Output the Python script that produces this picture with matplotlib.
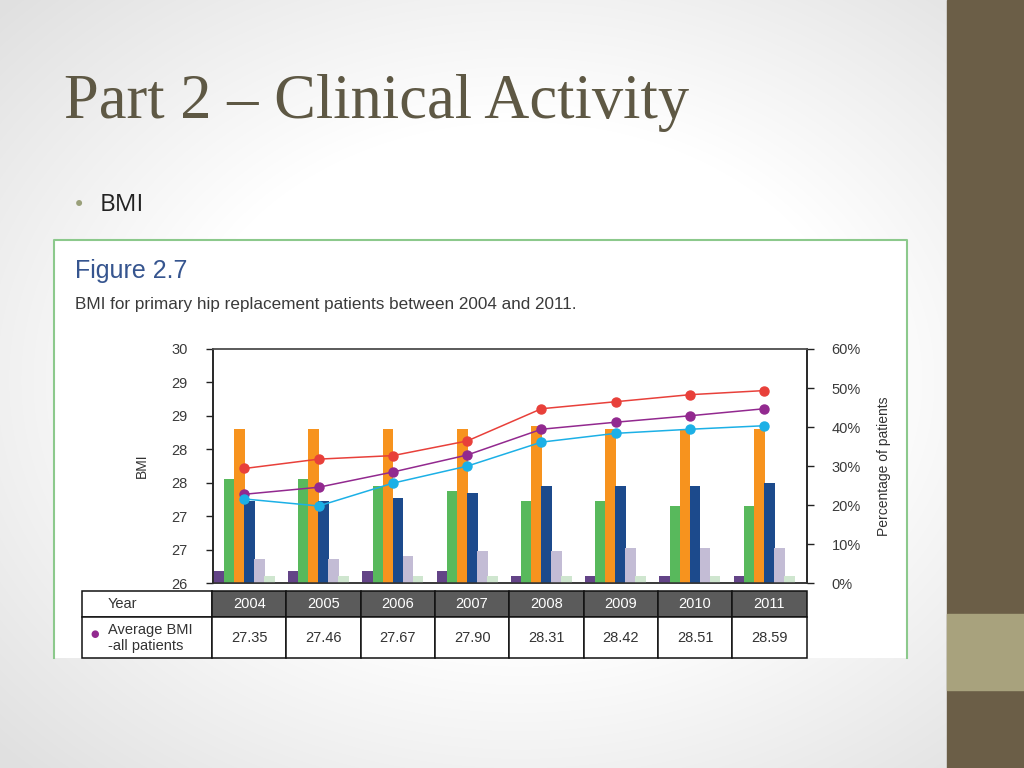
#!/usr/bin/env python

# Slide "Part 2 - Clinical Activity": BMI bars + lines with a year table below.

import matplotlib
matplotlib.use("Agg")
import matplotlib.pyplot as plt
import numpy as np
from matplotlib.patches import Rectangle
from matplotlib.ticker import FixedLocator, FuncFormatter

years = ["2004", "2005", "2006", "2007", "2008", "2009", "2010", "2011"]
avg_bmi_table = ["27.35", "27.46", "27.67", "27.90", "28.31", "28.42", "28.51", "28.59"]

# Percentage of patients per BMI band (bars, right axis)
pct_under = [3.2, 3.2, 3.2, 3.2, 1.9, 1.9, 1.9, 1.9]
pct_normal = [26.8, 26.8, 24.9, 23.7, 21.0, 21.0, 19.8, 19.8]
pct_over = [39.6, 39.6, 39.6, 39.6, 40.4, 39.6, 39.6, 39.6]
pct_obese1 = [21.0, 21.0, 21.8, 23.0, 24.9, 24.9, 24.9, 25.6]
pct_obese2 = [6.2, 6.2, 7.1, 8.3, 8.3, 9.0, 9.0, 9.0]
pct_obese3 = [1.9, 1.9, 1.9, 1.9, 1.9, 1.9, 1.9, 1.9]

# Average BMI lines (left axis)
bmi_red = [27.96, 28.12, 28.18, 28.43, 28.98, 29.10, 29.22, 29.29]
bmi_purple = [27.52, 27.64, 27.90, 28.19, 28.63, 28.75, 28.86, 28.98]
bmi_blue = [27.44, 27.32, 27.71, 28.00, 28.41, 28.56, 28.63, 28.69]

bmi_ticks = list(np.linspace(26, 30, 8))
pct_ticks = [0, 10, 20, 30, 40, 50, 60]

W, H = 1024, 768
CHART_FONT = ["Liberation Sans Narrow", "Liberation Sans", "DejaVu Sans"]


def px_axes(fig, x0, y0, x1, y1, **kw):
    # add axes from pixel box (top-left origin)
    return fig.add_axes([x0 / W, 1 - y1 / H, (x1 - x0) / W, (y1 - y0) / H], **kw)


fig = plt.figure(figsize=(W / 100, H / 100), dpi=100)

# slide background with soft grey vignette
bg = px_axes(fig, 0, 0, W, H)
yy, xx = np.mgrid[0:H, 0:W]
r = np.sqrt(((xx - 520) / 620.0) ** 2 + ((yy - 380) / 470.0) ** 2)
shade = 1 - 0.12 * np.clip((r - 0.55) / 0.6, 0, 1)
bg.imshow(np.dstack([shade] * 3), extent=[0, W, H, 0], aspect="auto")
bg.add_patch(Rectangle((947, 0), W - 947, H, color="#6b5e47"))
bg.add_patch(Rectangle((947, 614), W - 947, 76, color="#a8a27d"))
bg.set_xlim(0, W)
bg.set_ylim(H, 0)
bg.axis("off")

bg.text(64, 103, "Part 2 \u2013 Clinical Activity", fontsize=45,
        family="Liberation Serif", color="#5e5844", va="center", ha="left")
bg.text(73, 205, "\u2022", fontsize=15, color="#9aa07a", va="center")
bg.text(100, 205, "BMI", fontsize=17.5, family="Open Sans", color="#222222",
        va="center")

# white chart panel with green border (bottom cut off)
bg.add_patch(Rectangle((54, 240), 853, 418, facecolor="white", edgecolor="none"))
bg.plot([54, 54, 907, 907], [658, 240, 240, 658], color="#8cc98c", lw=1.5)

bg.text(75, 271, "Figure 2.7", fontsize=18, family=CHART_FONT, color="#36558f",
        va="center")
bg.text(75, 305, "BMI for primary hip replacement patients between 2004 and 2011.",
        fontsize=12.3, family=CHART_FONT, color="#3a3a3a", va="center")

# main chart: percentage bars on right axis, BMI lines on left axis
ax_pct = px_axes(fig, 212.5, 349, 806.5, 583.3)
ax_bmi = ax_pct.twinx()

x = np.arange(len(years)) - 0.07
bar_sets = [pct_under, pct_normal, pct_over, pct_obese1, pct_obese2, pct_obese3]
bar_colors = ["#634487", "#58b95c", "#f7931e", "#1c4a8c", "#c3bcd5", "#cfe6cf"]
bw = 0.135
for i, (vals, col) in enumerate(zip(bar_sets, bar_colors)):
    ax_pct.bar(x + (i - 2.5) * bw, vals, width=bw + 0.01, color=col, zorder=3)

ax_pct.set_xlim(-0.5, len(years) - 0.5)
ax_pct.set_ylim(0, 60)
ax_pct.yaxis.tick_right()
ax_pct.yaxis.set_label_position("right")
ax_pct.set_yticks(pct_ticks)
ax_pct.set_yticklabels(["%d%%" % t for t in pct_ticks])
ax_pct.set_ylabel("Percentage of patients", fontsize=10, family=CHART_FONT,
                  color="#333333", labelpad=12)
ax_pct.set_xticks([])

for vals, col in [(bmi_red, "#e8403a"), (bmi_purple, "#92298f"),
                  (bmi_blue, "#1cb0e6")]:
    ax_bmi.plot(x, vals, color=col, lw=1.1, marker="o", markersize=6.5, zorder=4)

ax_bmi.set_ylim(26, 30)
ax_bmi.yaxis.tick_left()
ax_bmi.yaxis.set_label_position("left")
ax_bmi.yaxis.set_major_locator(FixedLocator(bmi_ticks))
ax_bmi.yaxis.set_major_formatter(FuncFormatter(lambda v, p: "%.0f" % v))
ax_bmi.set_ylabel("BMI", fontsize=10, family=CHART_FONT, color="#333333",
                  labelpad=16)

for a in (ax_pct, ax_bmi):
    a.tick_params(axis="y", direction="out", length=5, width=1, color="#222222",
                  labelsize=10.5, labelcolor="#3a3a3a", pad=13)
    for lab in a.get_yticklabels():
        lab.set_family(CHART_FONT)
    for s in a.spines.values():
        s.set_linewidth(1.1)
    a.spines["top"].set_color("#555555")
    a.spines["bottom"].set_color("#333333")
    a.spines["left"].set_color("#222222")
    a.spines["right"].set_color("#222222")
ax_bmi.patch.set_visible(False)

# table under the chart
ax_tab = px_axes(fig, 82, 591, 806.5, 658.3)
ax_tab.axis("off")
cell_text = [["Year"] + years, ["Average BMI\n-all patients"] + avg_bmi_table]
col_w = [130] + [74.3] * len(years)
tab = ax_tab.table(cellText=cell_text, colWidths=col_w, bbox=[0, 0, 1, 1],
                   cellLoc="center")
tab.auto_set_font_size(False)
for (row, col), cell in tab.get_celld().items():
    cell.set_height(26 if row == 0 else 41)
    cell.set_edgecolor("#111111")
    cell.set_linewidth(1.1)
    txt = cell.get_text()
    txt.set_fontsize(10.5)
    txt.set_family(CHART_FONT)
    txt.set_color("#333333")
    if row == 0 and col > 0:
        cell.set_facecolor("#5b5b5b")
        txt.set_color("white")
    if col == 0:
        txt.set_ha("left")
        cell.PAD = 0.2
ax_tab.text(0.012, 0.36, "\u25cf", transform=ax_tab.transAxes, fontsize=7,
            color="#92298f", va="center", ha="left")

plt.savefig("out.png", dpi=100)
